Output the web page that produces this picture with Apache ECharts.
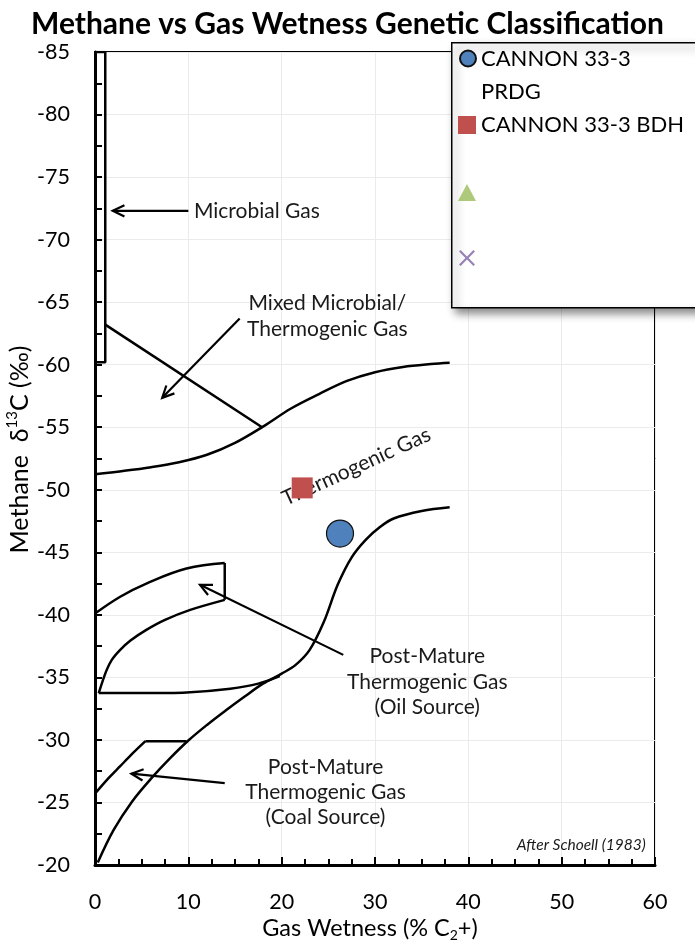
<!DOCTYPE html>
<html><head><meta charset="utf-8">
<script src="https://cdn.jsdelivr.net/npm/echarts@6/dist/echarts.min.js"></script>
<style>html,body{margin:0;padding:0;background:#fff}#c{width:695px;height:943px}</style>
</head><body><div id="c"></div>
<script>
const FONT = 'Lato, "Open Sans", sans-serif';

// ---- axes ----
const xRange = [0, 60];
const yRange = [-85, -20];

// ---- samples ----
const prdgPoint = [[26.25, -46.5]];
const bdhPoint = [[22.2, -50.15]];

// ---- classification boundaries (Schoell 1983) ----
const microbialBoxX = [0, 1.1, 1.1, 0];
const microbialBoxY = [-85, -85, -60.2, -60.2];
const mixedLineX = [1.1, 17.9];
const mixedLineY = [-63.2, -55.0];
const upperThermoX = [0, 3, 6, 9, 12, 15, 18, 21, 24, 27, 30, 33, 36, 38];
const upperThermoY = [-51.25, -51.5, -51.8, -52.2, -52.8, -53.75, -55.05, -56.5, -57.65, -58.7, -59.4, -59.82, -60.05, -60.15];
const lowerThermoX = [0.3, 2, 4, 6, 8, 10, 12, 14, 16, 18, 20, 21.5, 23, 24.5, 26, 27.5, 29, 30.5, 32, 35, 38];
const lowerThermoY = [-20.2, -22.8, -25.1, -26.9, -28.5, -29.95, -31.2, -32.35, -33.45, -34.5, -35.3, -36.0, -37.2, -39.4, -42.4, -44.6, -46.0, -47.0, -47.7, -48.3, -48.6];
const oilUpperX = [0, 2.7, 5.5, 9.8, 13.9];
const oilUpperY = [-40.1, -41.45, -42.5, -43.7, -44.15];
const oilRightX = [13.9, 13.9];
const oilRightY = [-44.15, -41.2];
const oilLowerX = [13.9, 10.2, 7.5, 5.5, 3.8, 2.7, 1.8, 1.2, 0.4];
const oilLowerY = [-41.2, -40.4, -39.6, -38.8, -37.95, -37.2, -36.4, -35.5, -33.75];
const oilBottomX = [0.4, 5, 9.8, 14.5, 17.5, 19.8];
const oilBottomY = [-33.75, -33.75, -33.8, -34.1, -34.5, -35.1];
const coalLeftX = [0, 1.4, 2.7, 4, 5.4];
const coalLeftY = [-25.7, -26.9, -27.9, -28.9, -29.9];
const coalTopX = [5.4, 9.8];
const coalTopY = [-29.9, -29.9];

// ---- annotation arrows: tail -> head ----
const arrowTails = [[10.0, -72.3], [15.5, -63.7], [26.6, -36.8], [13.9, -26.55]];
const arrowHeads = [[1.9, -72.3], [7.2, -57.35], [11.25, -42.4], [3.9, -27.3]];

// ---- annotation texts ----
const noteTexts = ['Microbial Gas', 'Mixed Microbial/', 'Thermogenic Gas', 'Thermogenic Gas',
  'Post-Mature', 'Thermogenic Gas', '(Oil Source)',
  'Post-Mature', 'Thermogenic Gas', '(Coal Source)', 'After Schoell (1983)'];
const noteX = [10.6, 24.9, 24.9, 28.0, 35.6, 35.6, 35.6, 24.7, 24.7, 24.7, 59.0];
const noteY = [-72.3, -64.9, -62.85, -51.85, -36.7, -34.65, -32.65, -27.85, -25.8, -23.85, -21.6];
const noteAlign = ['left', 'center', 'center', 'center', 'center', 'center', 'center', 'center', 'center', 'center', 'right'];
const noteRotate = [0, 0, 0, 24.5, 0, 0, 0, 0, 0, 0, 0];
const noteSize = [21, 21, 21, 21, 21, 21, 21, 21, 21, 21, 15.5];

const seriesNames = ['CANNON 33-3\nPRDG', 'CANNON 33-3 BDH', ' ', '  '];

const zip = (a, b) => a.map((v, i) => [v, b[i]]);
const lineSeries = (xs, ys, smooth) => ({
  type: 'line', data: zip(xs, ys), smooth: smooth,
  showSymbol: false, silent: true,
  lineStyle: { color: '#000', width: 2.5 }, z: 2, animation: false
});

const chart = echarts.init(document.getElementById('c'), null, { renderer: 'canvas' });
const crossPath = 'path://M0,1 L1,0 L5,4 L9,0 L10,1 L6,5 L10,9 L9,10 L5,6 L1,10 L0,9 L4,5 Z';
const legendText = { fontFamily: FONT, fontSize: 22, lineHeight: 33, color: '#000' };

chart.setOption({
  animation: false,
  backgroundColor: '#fff',
  title: {
    text: 'Methane vs Gas Wetness Genetic Classification', left: 'center', top: 4,
    textStyle: { fontFamily: FONT, fontSize: 30, fontWeight: 'bold', color: '#000' }
  },
  grid: { left: 95, right: 40, top: 52, bottom: 78, outerBoundsMode: 'none', containLabel: false,
    show: true, borderColor: '#000', borderWidth: 2, backgroundColor: 'transparent' },
  xAxis: {
    type: 'value', min: xRange[0], max: xRange[1], interval: 10,
    name: 'Gas Wetness (% C{sub|2}+)', nameLocation: 'middle', nameGap: 49, nameMoveOverlap: false,
    nameTextStyle: { fontFamily: FONT, fontSize: 23.5, color: '#000', lineHeight: 28, padding: [0, 10, 0, 0],
      rich: { sub: { fontFamily: FONT, fontSize: 14, lineHeight: 15, verticalAlign: 'bottom', color: '#000' } } },
    axisLine: { show: true, lineStyle: { color: '#000', width: 3 } },
    axisTick: { show: true, inside: true, length: 8, lineStyle: { color: '#000', width: 2 } },
    minorTick: { show: true, splitNumber: 4, length: 6, lineStyle: { color: '#000', width: 2 } },
    axisLabel: { fontFamily: FONT, fontSize: 21.5, color: '#000', margin: 26 },
    splitLine: { show: true, lineStyle: { color: '#ebebeb', width: 1 } }
  },
  yAxis: {
    type: 'value', min: yRange[0], max: yRange[1], interval: 5, inverse: true,
    name: 'Methane  δ{sup|13}C (‰)', nameLocation: 'middle', nameGap: 60, nameMoveOverlap: false,
    nameTextStyle: { fontFamily: FONT, fontSize: 25, color: '#000', lineHeight: 30, padding: [0, 0, 0, 18],
      rich: { sup: { fontFamily: FONT, fontSize: 15, lineHeight: 16, verticalAlign: 'top', color: '#000' } } },
    axisLine: { show: true, onZero: false, lineStyle: { color: '#000', width: 3 } },
    axisTick: { show: true, inside: true, length: 7, lineStyle: { color: '#000', width: 2 } },
    minorTick: { show: true, splitNumber: 2, length: 7, lineStyle: { color: '#000', width: 2 } },
    axisLabel: { fontFamily: FONT, fontSize: 21.5, color: '#000', margin: 25 },
    splitLine: { show: true, lineStyle: { color: '#ebebeb', width: 1 } }
  },
  legend: [
    { data: [{ name: seriesNames[0], icon: 'circle' }], formatter: n => ' \n' + n,
      left: 459, top: 9, itemWidth: 16, itemHeight: 16, padding: 0, selectedMode: false, z: 5,
      textStyle: legendText },
    { data: [{ name: seriesNames[1], icon: 'rect' }],
      left: 458, top: 108.5, itemWidth: 18, itemHeight: 18, padding: 0, selectedMode: false, z: 5,
      textStyle: legendText },
    { data: [{ name: seriesNames[2], icon: 'triangle' }],
      left: 458, top: 176, itemWidth: 18, itemHeight: 17, padding: 0, selectedMode: false, z: 5,
      textStyle: legendText },
    { data: [{ name: seriesNames[3], icon: crossPath }],
      left: 459, top: 241.5, itemWidth: 16, itemHeight: 16, padding: 0, selectedMode: false, z: 5,
      textStyle: legendText }
  ],
  graphic: [{
    type: 'rect', left: 451, top: 42, z: 3,
    shape: { width: 270, height: 265 },
    style: { fill: '#fff', stroke: '#000', lineWidth: 1.5, shadowBlur: 8, shadowOffsetX: 4, shadowOffsetY: 5, shadowColor: 'rgba(0,0,0,0.45)' }
  }],
  series: [
    lineSeries(microbialBoxX, microbialBoxY, false),
    lineSeries(mixedLineX, mixedLineY, false),
    lineSeries(upperThermoX, upperThermoY, 0.35),
    lineSeries(lowerThermoX, lowerThermoY, 0.35),
    lineSeries(oilUpperX, oilUpperY, 0.4),
    lineSeries(oilRightX, oilRightY, false),
    lineSeries(oilLowerX, oilLowerY, 0.3),
    lineSeries(oilBottomX, oilBottomY, 0.3),
    lineSeries(coalLeftX, coalLeftY, 0.3),
    lineSeries(coalTopX, coalTopY, false),
    {
      type: 'custom', silent: true, z: 2,
      data: arrowTails.map((t, i) => [t[0], t[1], arrowHeads[i][0], arrowHeads[i][1]]),
      renderItem: (params, api) => {
        const p1 = api.coord([api.value(0), api.value(1)]);
        const p2 = api.coord([api.value(2), api.value(3)]);
        const ang = Math.atan2(p1[1] - p2[1], p1[0] - p2[0]);
        const L = 13, a = 0.45;
        const h1 = [p2[0] + L * Math.cos(ang + a), p2[1] + L * Math.sin(ang + a)];
        const h2 = [p2[0] + L * Math.cos(ang - a), p2[1] + L * Math.sin(ang - a)];
        return { type: 'group', children: [
          { type: 'line', shape: { x1: p1[0], y1: p1[1], x2: p2[0], y2: p2[1] }, style: { stroke: '#000', lineWidth: 2.2 } },
          { type: 'polyline', shape: { points: [h1, p2, h2] }, style: { stroke: '#000', lineWidth: 2.2, fill: null } }
        ] };
      }
    },
    {
      type: 'custom', silent: true, z: 2,
      data: noteX.map((x, i) => [x, noteY[i], i]),
      renderItem: (params, api) => {
        const i = api.value(2);
        const p = api.coord([api.value(0), api.value(1)]);
        return { type: 'text', x: p[0], y: p[1], rotation: noteRotate[i] * Math.PI / 180,
          style: { text: noteTexts[i], fill: '#1a1a1a', align: noteAlign[i], verticalAlign: 'middle',
            font: (i === 10 ? 'italic ' : '') + noteSize[i] + 'px ' + FONT } };
      }
    },
    { name: seriesNames[0], type: 'scatter', data: prdgPoint, symbol: 'circle', symbolSize: 27, z: 4,
      itemStyle: { color: '#4f81bd', borderColor: '#111', borderWidth: 1.2, opacity: 1 } },
    { name: seriesNames[1], type: 'scatter', data: bdhPoint, symbol: 'rect', symbolSize: 21, z: 4,
      itemStyle: { color: '#c0504d', opacity: 1 } },
    { name: seriesNames[2], type: 'scatter', data: [], symbol: 'triangle', symbolSize: 18,
      itemStyle: { color: '#9bbb59' } },
    { name: seriesNames[3], type: 'scatter', data: [], symbol: crossPath, symbolSize: 16,
      itemStyle: { color: '#8064a2' } }
  ]
});
</script></body></html>
